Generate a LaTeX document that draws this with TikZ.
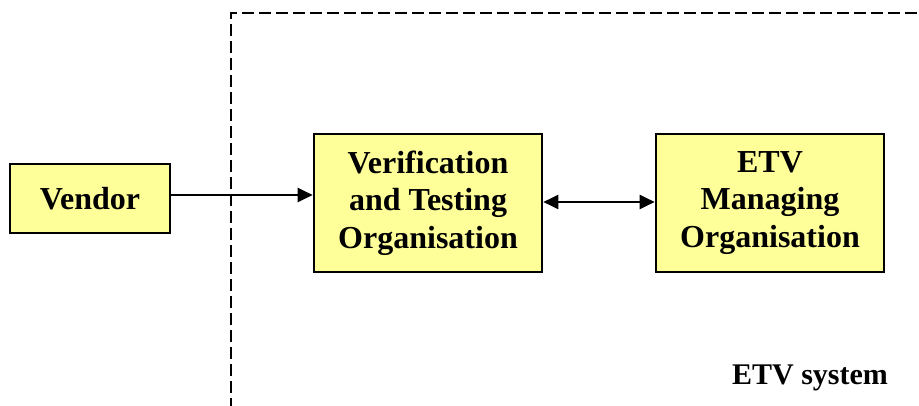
\documentclass[tikz,border=0pt]{standalone}
\usepackage{fontspec}
\setmainfont{Liberation Serif}
\usetikzlibrary{arrows.meta}
\definecolor{boxfill}{HTML}{FFFF99}
\begin{document}
\begin{tikzpicture}[x=1pt,y=-1pt,
  box/.style={draw=black,line width=2.6pt,fill=boxfill,inner sep=0pt,align=center,
    font=\fontsize{32}{37.5}\selectfont\bfseries},
  conn/.style={line width=2pt,-{Triangle[length=15pt,width=14pt]}},
  dconn/.style={line width=2pt,{Triangle[length=15pt,width=14pt]}-{Triangle[length=15pt,width=14pt]}},
  bound/.style={line width=2.6pt,dash pattern=on 12pt off 5pt}]
\useasboundingbox (0,0) rectangle (919,406);
\draw[bound] (231,410) -- (231,13) -- (925,13);
\node[box,minimum width=160pt,minimum height=69pt] (vendor) at (90,198.5) {Vendor};
\node[box,minimum width=228pt,minimum height=138pt] (vto) at (428,203) {Verification\\and Testing\\Organisation};
\node[box,minimum width=228pt,minimum height=138pt] (etv) at (770,203) {ETV\\Managing\\Organisation};
\node[font=\fontsize{30}{35}\selectfont\bfseries] (sys) at (810,378) {ETV system};
\draw[conn] (vendor.east |- 0,195) -- (vto.west |- 0,195);
\draw[dconn] (vto.east |- 0,202) -- (etv.west |- 0,202);
\end{tikzpicture}
\end{document}
